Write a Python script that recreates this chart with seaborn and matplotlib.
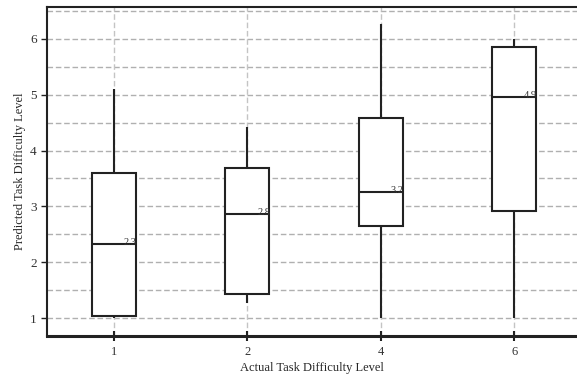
import pandas as pd
import numpy as np
import matplotlib.pyplot as plt
import seaborn as sns

# values: min, q1, median, q3, max per level
levels = ["1", "2", "4", "6"]
level_1 = [1.0, 1.03, 2.33, 3.6, 5.1]
level_2 = [1.27, 1.43, 2.86, 3.69, 4.42]
level_4 = [1.0, 2.65, 3.26, 4.58, 6.27]
level_6 = [1.0, 2.92, 4.95, 5.86, 6.0]
median_labels = ["2.3", "2.8", "3.2", "4.9"]

data = pd.DataFrame({
    "Actual": np.repeat(levels, 5),
    "Predicted": level_1 + level_2 + level_4 + level_6,
})

sns.set_style("white")
plt.rcParams["font.family"] = ["Liberation Serif", "DejaVu Serif"]

fig = plt.figure(figsize=(5.77, 3.77), dpi=100)
ax = fig.add_axes([47 / 577, 41 / 377, 530 / 577, 329 / 377])

# dashed grid
for y in np.arange(1.0, 6.51, 0.5):
    ax.axhline(y, color="#b0b0b0", lw=1.0, ls=(0, (4, 2)), zorder=0)
for x in range(len(levels)):
    ax.axvline(x, color="#c4c4c4", lw=1.0, ls=(0, (4, 2)), zorder=0)

line = dict(color="#222222", linewidth=1.5)
sns.boxplot(data=data, x="Actual", y="Predicted", order=levels, whis=(0, 100),
            width=0.33, showcaps=False, showfliers=False, ax=ax,
            boxprops=dict(facecolor="white", edgecolor="#222222", linewidth=1.5, zorder=2),
            medianprops=line, whiskerprops=line)

# median labels at the right edge of each box
meds = [level_1[2], level_2[2], level_4[2], level_6[2]]
for i, (m, lab) in enumerate(zip(meds, median_labels)):
    ax.text(i + 0.17, m + 0.03, lab, ha="right", va="center", fontsize=7.5,
            color="#333333", zorder=3)

ax.set_xlim(-0.5, 3.47)
ax.set_ylim(0.68, 6.57)
ax.set_yticks([1, 2, 3, 4, 5, 6])
ax.set_xlabel("Actual Task Difficulty Level", fontsize=9, labelpad=3)
ax.set_ylabel("Predicted Task Difficulty Level", fontsize=9, labelpad=3)
ax.tick_params(axis="y", direction="out", length=4, width=1, labelsize=9.5,
               color="#222222", labelcolor="#333333", left=True)
ax.tick_params(axis="x", direction="inout", length=7, width=1.5, labelsize=9,
               color="#222222", labelcolor="#333333", bottom=True)

for side in ["left", "top"]:
    ax.spines[side].set_color("#222222")
    ax.spines[side].set_linewidth(1.5)
ax.spines["bottom"].set_color("#222222")
ax.spines["bottom"].set_linewidth(2.2)
ax.spines["right"].set_visible(False)

plt.savefig("out.png", dpi=100)
